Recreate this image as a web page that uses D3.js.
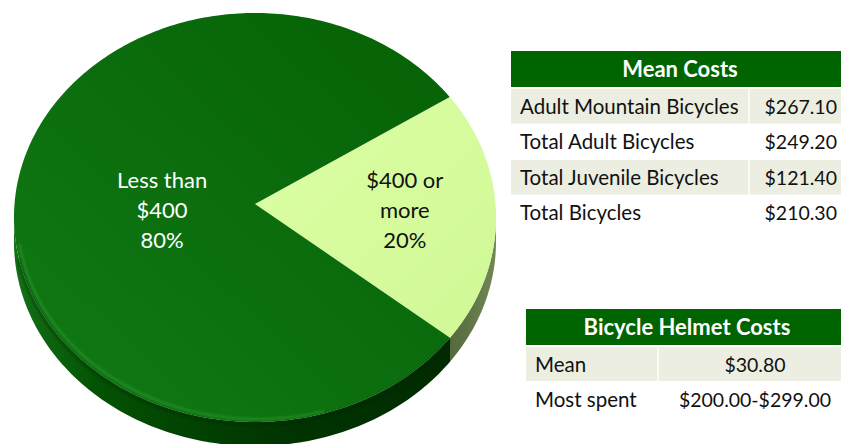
<!DOCTYPE html>
<html>
<head>
<meta charset="utf-8">
<script src="https://cdn.jsdelivr.net/npm/d3@7"></script>
<style>
  html, body { margin: 0; padding: 0; background: #fff; }
  svg { display: block; font-family: Lato, "Open Sans", sans-serif; }
</style>
</head>
<body>
<div id="chart"></div>
<script>
// Pie: share of bicycles by price
const sliceNames = ["$400 or more", "Less than $400"];
const sliceValues = [20, 80];
const sliceLabels = [["$400 or", "more", "20%"], ["Less than", "$400", "80%"]];

// Mean costs table
const meanCostItems = ["Adult Mountain Bicycles", "Total Adult Bicycles", "Total Juvenile Bicycles", "Total Bicycles"];
const meanCostValues = ["$267.10", "$249.20", "$121.40", "$210.30"];

// Helmet table
const helmetItems = ["Mean", "Most spent"];
const helmetValues = ["$30.80", "$200.00-$299.00"];

function createChart(width, height) {
    let svg = d3.select("#chart")
        .append("svg")
        .attr("width", width)
        .attr("height", height);

    let defs = svg.append("defs");

    /* Gradients */
    let topDark = defs.append("linearGradient").attr("id", "topDark")
        .attr("x1", "0%").attr("y1", "100%").attr("x2", "100%").attr("y2", "0%");
    topDark.append("stop").attr("offset", "0%").attr("stop-color", "#127a16");
    topDark.append("stop").attr("offset", "100%").attr("stop-color", "#056105");

    let topLight = defs.append("linearGradient").attr("id", "topLight")
        .attr("x1", "0%").attr("y1", "0%").attr("x2", "100%").attr("y2", "100%");
    topLight.append("stop").attr("offset", "0%").attr("stop-color", "#dcffa4");
    topLight.append("stop").attr("offset", "100%").attr("stop-color", "#d0f896");

    let sideDark = defs.append("linearGradient").attr("id", "sideDark")
        .attr("gradientUnits", "userSpaceOnUse")
        .attr("x1", 14).attr("y1", 0).attr("x2", 450).attr("y2", 0);
    sideDark.append("stop").attr("offset", "0%").attr("stop-color", "#137016");
    sideDark.append("stop").attr("offset", "20%").attr("stop-color", "#035103");
    sideDark.append("stop").attr("offset", "60%").attr("stop-color", "#013501");
    sideDark.append("stop").attr("offset", "100%").attr("stop-color", "#002b00");

    let sideLight = defs.append("linearGradient").attr("id", "sideLight")
        .attr("gradientUnits", "userSpaceOnUse")
        .attr("x1", 440).attr("y1", 0).attr("x2", 500).attr("y2", 0);
    sideLight.append("stop").attr("offset", "0%").attr("stop-color", "#4f6338");
    sideLight.append("stop").attr("offset", "100%").attr("stop-color", "#738a56");

    let blur = defs.append("filter").attr("id", "soft");
    blur.append("feGaussianBlur").attr("stdDeviation", 1.2);

    /* Pie geometry: a tilted disc seen in slight perspective */
    let cx = 255, cy = 204;          // apex of the slices
    let A = 240.5, B = 203.6, p = 0.066, depth = 24;
    let deg = Math.PI / 180;
    let start = 57 * deg;

    let pie = d3.pie()
        .sort(null)
        .startAngle(start)
        .endAngle(start + 2 * Math.PI);
    let arcs = pie(sliceValues);

    // Project a d3 pie angle (0 = 12 o'clock, clockwise) onto the disc rim
    function rim(a, dy) {
        let u = Math.sin(a), v = -Math.cos(a);
        let w = 1 - p * v;
        return [cx + A * u / w, cy + B * v / w + (dy || 0)];
    }
    function rimPoints(s, e, dy) {
        let n = Math.max(2, Math.ceil((e - s) / deg));
        return d3.range(n + 1).map(i => rim(s + (e - s) * i / n, dy));
    }

    let line = d3.line();
    let topFills = ["url(#topLight)", "url(#topDark)"];
    let sideFills = ["url(#sideLight)", "url(#sideDark)"];

    // Side walls: region between top rim and rim shifted down by depth
    let sides = svg.append("g").attr("class", "sides");
    arcs.forEach((d, i) => {
        let s = Math.max(d.startAngle, 94 * deg);
        let e = Math.min(d.endAngle, 266 * deg);
        if (e <= s) return;
        let pts = rimPoints(s, e, 0).concat(rimPoints(s, e, depth).reverse());
        sides.append("path")
            .attr("d", line(pts) + "Z")
            .attr("fill", sideFills[i]);
    });

    // Top faces
    let tops = svg.append("g").attr("class", "tops");
    arcs.forEach((d, i) => {
        let pts = [[cx, cy]].concat(rimPoints(d.startAngle, d.endAngle, 0));
        tops.append("path")
            .attr("d", line(pts) + "Z")
            .attr("fill", topFills[i]);
    });

    // Soft bevel highlight along the lower-left rim
    svg.append("path")
        .attr("d", line(rimPoints(165 * deg, 258 * deg, 0).map(q => [q[0] + 3, q[1] - 3])))
        .attr("fill", "none")
        .attr("stroke", "#3aa83c")
        .attr("stroke-opacity", 0.5)
        .attr("stroke-width", 2)
        .attr("filter", "url(#soft)");

    // Shadow just under the top rim on the front wall
    svg.append("path")
        .attr("d", line(rimPoints(129 * deg, 255 * deg, 2)))
        .attr("fill", "none")
        .attr("stroke", "#001f00")
        .attr("stroke-opacity", 0.35)
        .attr("stroke-width", 3)
        .attr("filter", "url(#soft)");

    /* Pie labels */
    let labelRadius = [150, 93];
    let labelColors = ["#111", "#fff"];
    arcs.forEach((d, i) => {
        let mid = (d.startAngle + d.endAngle) / 2;
        let lx = cx + labelRadius[i] * Math.sin(mid);
        let ly = cy + 7;
        let t = svg.append("text")
            .attr("text-anchor", "middle")
            .attr("font-size", "22px")
            .attr("fill", labelColors[i]);
        sliceLabels[i].forEach((txt, j) => {
            t.append("tspan")
                .attr("x", lx)
                .attr("y", ly + (j - 1) * 30 + 7)
                .text(txt);
        });
    });

    /* Tables */
    function drawTable(opts) {
        let g = svg.append("g");
        g.append("rect")
            .attr("x", opts.x0).attr("y", opts.y0)
            .attr("width", opts.x1 - opts.x0).attr("height", opts.headH)
            .attr("fill", "#006400");
        g.append("text")
            .attr("x", opts.titleX)
            .attr("y", opts.y0 + opts.headH / 2 + 8)
            .attr("text-anchor", "middle")
            .attr("font-weight", "bold")
            .attr("font-size", "22px")
            .attr("fill", "#fff")
            .text(opts.title);

        let rowY = d3.scaleBand()
            .domain(d3.range(opts.items.length))
            .range([opts.y0 + opts.headH + 2, opts.y0 + opts.headH + 2 + opts.rowH * opts.items.length]);

        opts.items.forEach((item, i) => {
            let y = rowY(i);
            if (i % 2 === 0) {
                g.append("rect")
                    .attr("x", opts.x0).attr("y", y)
                    .attr("width", opts.x1 - opts.x0).attr("height", rowY.bandwidth() - 1)
                    .attr("fill", "#ebeee0");
                g.append("line")
                    .attr("x1", opts.divX).attr("x2", opts.divX)
                    .attr("y1", y).attr("y2", y + rowY.bandwidth())
                    .attr("stroke", "#fff").attr("stroke-width", 1.5);
            }
            g.append("text")
                .attr("x", opts.textX)
                .attr("y", y + rowY.bandwidth() / 2 + 7)
                .attr("font-size", "20.5px")
                .attr("fill", "#111")
                .text(item);
            g.append("text")
                .attr("x", opts.valX)
                .attr("y", y + rowY.bandwidth() / 2 + 7)
                .attr("text-anchor", opts.valAnchor)
                .attr("font-size", "19.5px")
                .attr("fill", "#111")
                .text(opts.values[i]);
        });
    }

    drawTable({
        title: "Mean Costs", items: meanCostItems, values: meanCostValues,
        x0: 511, x1: 849, y0: 51, headH: 36, rowH: 35.5,
        titleX: 680, divX: 749, textX: 520, valX: 837, valAnchor: "end"
    });

    drawTable({
        title: "Bicycle Helmet Costs", items: helmetItems, values: helmetValues,
        x0: 526, x1: 849, y0: 309, headH: 36, rowH: 35,
        titleX: 687, divX: 658, textX: 535, valX: 755, valAnchor: "middle"
    });
}

createChart(841, 444);
</script>
</body>
</html>
